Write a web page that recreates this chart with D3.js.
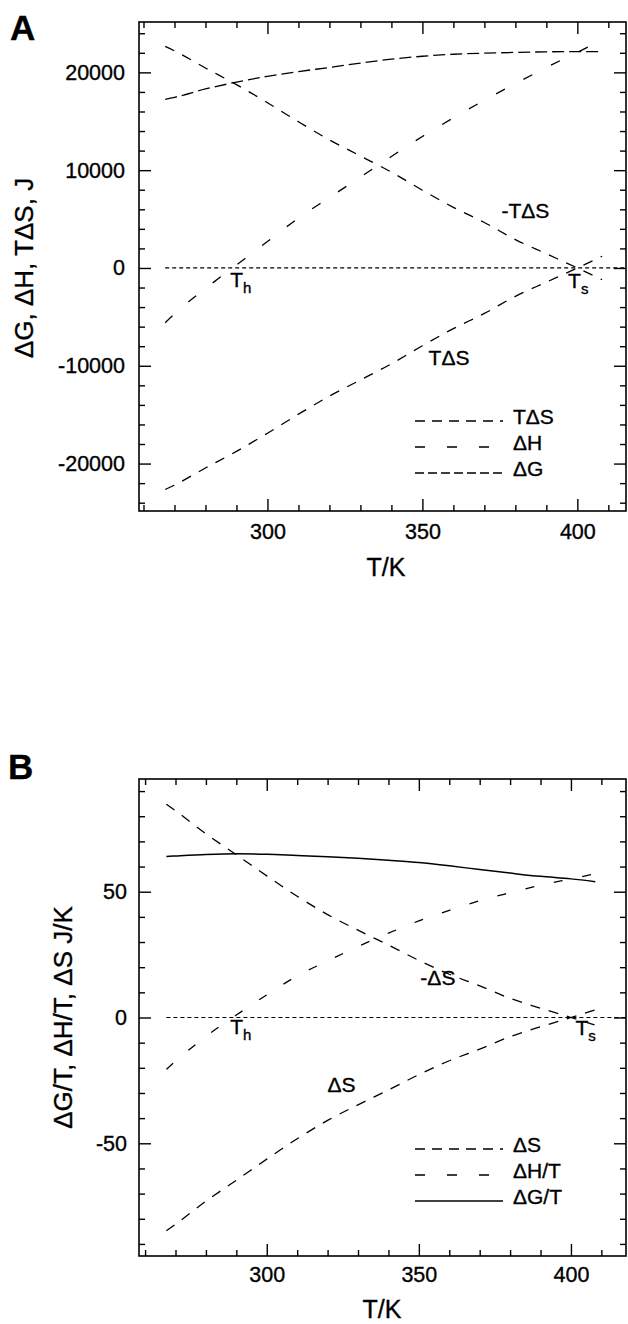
<!DOCTYPE html>
<html><head><meta charset="utf-8">
<script src="https://cdn.jsdelivr.net/npm/d3@7"></script>
<style>
body{margin:0;background:#fff}
svg{display:block}
text{font-family:"Liberation Sans",Arial,Helvetica,sans-serif;fill:#000;stroke:#000;stroke-width:0.35px}
</style>
</head><body>
<svg id="c" width="628" height="1324"></svg>
<script>
// ---------- data ----------
const temps   = [267, 270, 280, 290, 300, 310, 320, 330, 340, 350, 360, 370, 380, 390, 400, 408];
// Panel A (J)
const dG      = [17250, 17450, 18300, 19000, 19600, 20080, 20500, 20950, 21350, 21650, 21850, 21960, 22040, 22100, 22120, 22120];
const dH      = [-5600, -4700, -2100, 300, 2700, 5100, 7200, 9300, 11400, 13450, 15350, 17150, 18850, 20500, 22050, 23300];
const TdS     = [-22650, -22200, -20450, -18750, -16900, -14950, -13100, -11450, -9800, -7950, -6200, -4650, -2900, -1450, 0, 1200];
const negTdS  = [22650, 22200, 20450, 18750, 16900, 14950, 13100, 11450, 9800, 7950, 6200, 4650, 2900, 1450, 0, -1200];
// Panel B (J/K)
const dGT     = [64.0, 64.2, 64.8, 65.1, 64.9, 64.4, 63.9, 63.3, 62.5, 61.6, 60.3, 58.8, 57.4, 56.1, 55.1, 54.0];
const dHT     = [-20.6, -17.4, -7.5, 1.0, 9.0, 16.5, 22.5, 28.2, 33.5, 38.4, 42.6, 46.4, 49.6, 52.6, 55.1, 57.1];
const dS      = [-84.8, -82.2, -73.0, -64.7, -56.3, -48.2, -40.9, -34.7, -28.8, -22.7, -17.2, -12.6, -7.6, -3.7, 0, 3.0];
const negdS   = [84.8, 82.2, 73.0, 64.7, 56.3, 48.2, 40.9, 34.7, 28.8, 22.7, 17.2, 12.6, 7.6, 3.7, 0, -3.0];
const zeroLineT = [267, 418];

const xMajor = [300, 350, 400];
const xTickLabels = ["300", "350", "400"];
const xMinor = [260, 270, 280, 290, 310, 320, 330, 340, 360, 370, 380, 390, 410];
const yMajorA = [-20000, -10000, 0, 10000, 20000];
const yTickLabelsA = ["-20000", "-10000", "0", "10000", "20000"];
const yMinorA = [-24000,-22000,-18000,-16000,-14000,-12000,-8000,-6000,-4000,-2000,2000,4000,6000,8000,12000,14000,16000,18000,22000,24000];
const yMajorB = [-50, 0, 50];
const yTickLabelsB = ["-50", "0", "50"];
const yMinorB = [-90,-80,-70,-60,-40,-30,-20,-10,10,20,30,40,60,70,80,90];

const svg = d3.select("#c");

function panel(cfg) {
  const x = d3.scaleLinear().domain(cfg.xDomain).range([cfg.left, cfg.right]);
  const y = d3.scaleLinear().domain(cfg.yDomain).range([cfg.bottom, cfg.top]);
  const g = svg.append("g");
  const W = cfg.right - cfg.left, H = cfg.bottom - cfg.top;

  function ax(axisFn, scale, vals, size, labels, pad, transform) {
    const a = axisFn(scale).tickValues(vals).tickSize(size).tickPadding(pad)
      .tickFormat(labels ? ((d, i) => labels[i]) : () => "");
    const ga = g.append("g").attr("transform", transform).call(a);
    ga.select(".domain").remove();
    ga.selectAll("line").attr("stroke", "#000").attr("stroke-width", 1.4);
    ga.selectAll("text").attr("font-size", 21.5).attr("font-family", "Liberation Sans, Arial, sans-serif").attr("fill", "#000");
    return ga;
  }
  ax(d3.axisBottom, x, xMajor, -12, xTickLabels, cfg.xPad, `translate(0,${cfg.bottom})`);
  ax(d3.axisBottom, x, xMinor, -6, null, 0, `translate(0,${cfg.bottom})`);
  ax(d3.axisTop, x, xMajor, -12, null, 0, `translate(0,${cfg.top})`);
  ax(d3.axisTop, x, xMinor, -6, null, 0, `translate(0,${cfg.top})`);
  ax(d3.axisLeft, y, cfg.yMajor, -12, cfg.yLabels, cfg.yPad, `translate(${cfg.left},0)`);
  ax(d3.axisLeft, y, cfg.yMinor, -6, null, 0, `translate(${cfg.left},0)`);
  ax(d3.axisRight, y, cfg.yMajor, -12, null, 0, `translate(${cfg.right},0)`);
  ax(d3.axisRight, y, cfg.yMinor, -6, null, 0, `translate(${cfg.right},0)`);

  g.append("rect").attr("x", cfg.left).attr("y", cfg.top).attr("width", W).attr("height", H)
    .attr("fill", "none").attr("stroke", "#000").attr("stroke-width", 1.6);

  const line = d3.line().x(d => x(d[0])).y(d => y(d[1])).curve(d3.curveMonotoneX);

  g.append("path").attr("d", line([[zeroLineT[0], 0], [Math.min(zeroLineT[1], cfg.xDomain[1]), 0]]))
    .attr("fill", "none").attr("stroke", "#000").attr("stroke-width", 1.2).attr("stroke-dasharray", "4,3");

  cfg.series.forEach(s => {
    g.append("path").attr("d", line(temps.map((t, i) => [t, s.values[i]])))
      .attr("fill", "none").attr("stroke", "#000").attr("stroke-width", s.w || 1.3)
      .attr("stroke-dasharray", s.dash || null);
  });

  cfg.notes.forEach(n => {
    const t = g.append("text").attr("x", x(n.t) + (n.dx || 0)).attr("y", y(n.v) + (n.dy || 0)).attr("font-size", 21);
    t.append("tspan").text(n.text);
    if (n.sub) t.append("tspan").attr("font-size", 15).attr("dy", 6).text(n.sub);
  });

  cfg.legend.forEach((L, i) => {
    const ly = cfg.legendY + i * cfg.legendStep;
    g.append("line").attr("x1", 415).attr("x2", 503).attr("y1", ly).attr("y2", ly)
      .attr("stroke", "#000").attr("stroke-width", 1.3).attr("stroke-dasharray", L.dash || null);
    g.append("text").attr("x", 513).attr("y", ly + 3).attr("font-size", 21).text(L.label);
  });

  g.append("text").attr("x", cfg.xTitleX).attr("y", cfg.bottom + cfg.xTitleDy).attr("text-anchor", "middle")
    .attr("font-size", 25).text("T/K");
  g.append("text").attr("transform", `translate(${cfg.yTitleX},${y(0)}) rotate(-90)`).attr("text-anchor", "middle")
    .attr("font-size", 26).text(cfg.yTitle);
  g.append("text").attr("x", cfg.letterX).attr("y", cfg.letterY).attr("font-size", 35).attr("font-weight", "bold").text(cfg.letter);
}

panel({
  letter: "A", letterX: 10, letterY: 40,
  left: 139, right: 626, top: 22, bottom: 511,
  xDomain: [258.55, 415.7], yDomain: [-24850, 25150],
  yMajor: yMajorA, yMinor: yMinorA, yLabels: yTickLabelsA, yPad: 14, xPad: 13,
  xTitleX: 386, xTitleDy: 65, yTitleX: 33, yTitle: "ΔG, ΔH, TΔS, J",
  series: [
    {values: dG, dash: "12,5"},
    {values: dH, dash: "10,21"},
    {values: TdS, dash: "10,9"},
    {values: negTdS, dash: "10,9"}
  ],
  notes: [
    {text: "-TΔS", t: 375.5, v: 5150},
    {text: "TΔS", t: 352, v: -9900},
    {text: "T", sub: "h", t: 288, v: 0, dy: 19},
    {text: "T", sub: "s", t: 397, v: 0, dy: 20}
  ],
  legend: [{label: "TΔS", dash: "10,7"}, {label: "ΔH", dash: "10,22"}, {label: "ΔG", dash: "9,4"}],
  legendY: 421, legendStep: 26
});

panel({
  letter: "B", letterX: 8, letterY: 779,
  left: 139, right: 626, top: 779, bottom: 1256,
  xDomain: [258.0, 418.1], yDomain: [-94.8, 94.8],
  yMajor: yMajorB, yMinor: yMinorB, yLabels: yTickLabelsB, yPad: 12, xPad: 11,
  xTitleX: 382, xTitleDy: 62, yTitleX: 72, yTitle: "ΔG/T, ΔH/T, ΔS J/K",
  series: [
    {values: dGT, w: 1.5},
    {values: dHT, dash: "9,20"},
    {values: dS, dash: "10,9"},
    {values: negdS, dash: "10,9"}
  ],
  notes: [
    {text: "-ΔS", t: 350.5, v: 13},
    {text: "ΔS", t: 320, v: -29.5},
    {text: "T", sub: "h", t: 288, v: 0, dy: 16},
    {text: "T", sub: "s", t: 401.5, v: 0, dy: 17}
  ],
  legend: [{label: "ΔS", dash: "10,7"}, {label: "ΔH/T", dash: "10,22"}, {label: "ΔG/T"}],
  legendY: 1149, legendStep: 26
});
</script>
</body></html>
